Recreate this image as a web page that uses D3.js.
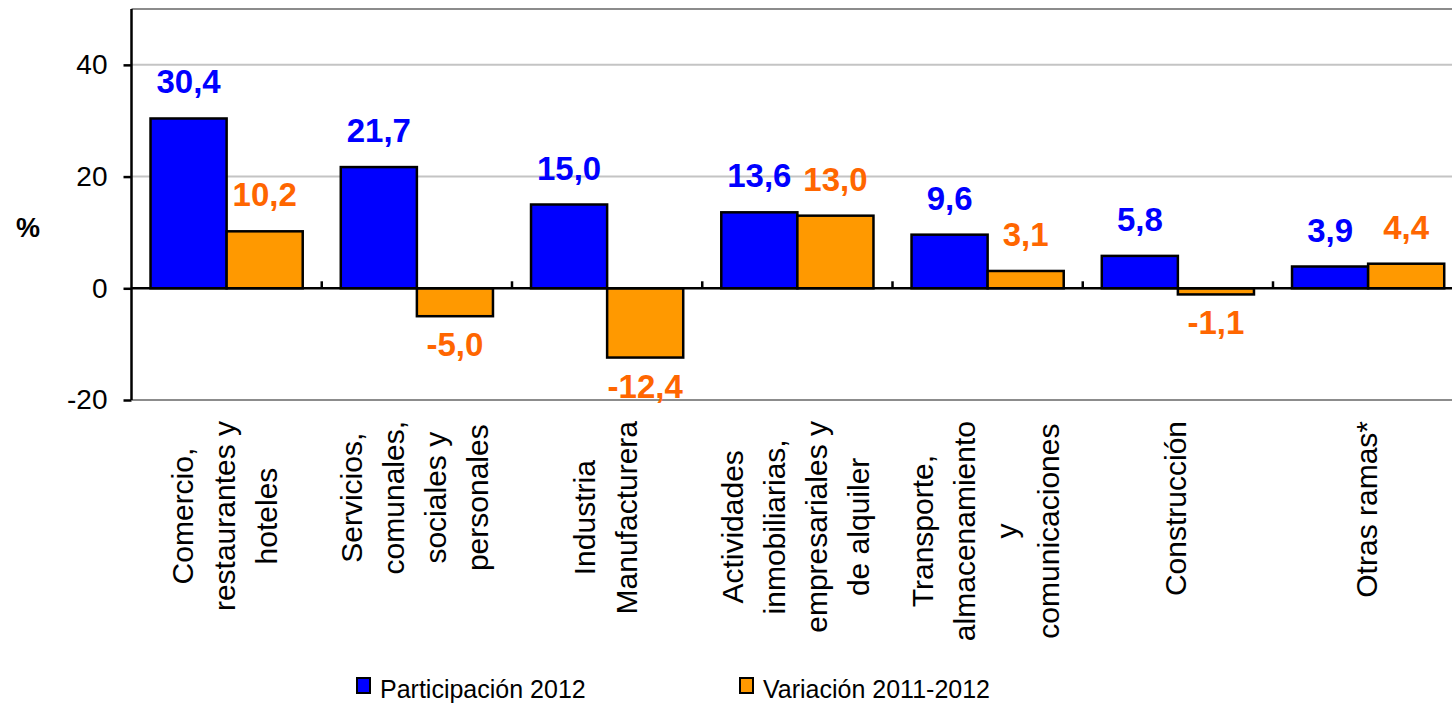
<!DOCTYPE html>
<html>
<head>
<meta charset="utf-8">
<script src="https://cdn.jsdelivr.net/npm/d3@7"></script>
<style>
  body { margin: 0; background: #fff; }
  text { font-family: Arial, "Liberation Sans", sans-serif; }
</style>
</head>
<body>
<script>
// categories (one entry per line of the rotated label)
const categories = [
  ["Comercio,", "restaurantes y", "hoteles"],
  ["Servicios,", "comunales,", "sociales y", "personales"],
  ["Industria", "Manufacturera"],
  ["Actividades", "inmobiliarias,", "empresariales y", "de alquiler"],
  ["Transporte,", "almacenamiento", "y", "comunicaciones"],
  ["Construcción"],
  ["Otras ramas*"]
];
const participacion = [30.4, 21.7, 15.0, 13.6, 9.6, 5.8, 3.9];
const variacion = [10.2, -5.0, -12.4, 13.0, 3.1, -1.1, 4.4];
const seriesNames = ["Participación 2012", "Variación 2011-2012"];
const yTicks = [-20, 0, 20, 40];

const width = 1452;
const height = 703;

const barColors = ["#0000ff", "#ff9900"];
const labelColors = ["#0000ff", "#ff6600"];

// comma decimal format, plain hyphen for negatives
const locale = d3.formatLocale({ decimal: ",", thousands: ".", grouping: [3], currency: ["", ""], minus: "-" });
const fmt = locale.format(".1f");
const fmtInt = locale.format("d");

const svg = d3.select('body')
  .append('svg')
  .attr('width', width)
  .attr('height', height);

const keys = categories.map(c => c.join(" "));
const data = keys.map((k, i) => ({ key: k, lines: categories[i], values: [participacion[i], variacion[i]] }));

// scales
const left = 131.5;
const step = 190.25;
const x0 = d3.scaleBand()
  .domain(keys)
  .range([left, left + step * keys.length])
  .padding(0);

const x1 = d3.scaleBand()
  .domain([0, 1])
  .range([0, x0.bandwidth()])
  .paddingInner(0)
  .paddingOuter(0.25);

const y = d3.scaleLinear()
  .domain([-20, 50])
  .range([400, 9]);

// gridlines
svg.append('g')
  .selectAll('line')
  .data([20, 40])
  .enter()
  .append('line')
  .attr('x1', left)
  .attr('x2', width)
  .attr('y1', d => y(d))
  .attr('y2', d => y(d))
  .attr('stroke', '#c4c4c4')
  .attr('stroke-width', 2);

// plot area border top/bottom
svg.append('g')
  .selectAll('line')
  .data([50, -20])
  .enter()
  .append('line')
  .attr('x1', left)
  .attr('x2', width)
  .attr('y1', d => y(d))
  .attr('y2', d => y(d))
  .attr('stroke', '#8c8c8c')
  .attr('stroke-width', 2);

// bars
const groups = svg.append('g')
  .selectAll('g')
  .data(data)
  .enter()
  .append('g')
  .attr('transform', d => `translate(${x0(d.key)},0)`);

groups.selectAll('rect')
  .data(d => d.values.map((v, i) => ({ v, i })))
  .enter()
  .append('rect')
  .attr('x', d => x1(d.i))
  .attr('width', x1.bandwidth())
  .attr('y', d => y(Math.max(0, d.v)))
  .attr('height', d => Math.abs(y(d.v) - y(0)))
  .attr('fill', d => barColors[d.i])
  .attr('stroke', '#000')
  .attr('stroke-width', 2.5);

// value labels
groups.selectAll('text.val')
  .data(d => d.values.map((v, i) => ({ v, i })))
  .enter()
  .append('text')
  .attr('class', 'val')
  .attr('x', d => x1(d.i) + x1.bandwidth() / 2)
  .attr('y', d => d.v >= 0 ? y(d.v) - 25 : y(d.v) + 40)
  .attr('text-anchor', 'middle')
  .attr('font-size', 33)
  .attr('font-weight', 'bold')
  .attr('fill', d => labelColors[d.i])
  .text(d => fmt(d.v));

// zero line (category axis)
svg.append('line')
  .attr('x1', left)
  .attr('x2', width)
  .attr('y1', y(0))
  .attr('y2', y(0))
  .attr('stroke', '#000')
  .attr('stroke-width', 2.5);

// category tick marks
svg.append('g')
  .selectAll('line')
  .data(keys.slice(1))
  .enter()
  .append('line')
  .attr('x1', d => x0(d))
  .attr('x2', d => x0(d))
  .attr('y1', y(0))
  .attr('y2', y(0) - 7)
  .attr('stroke', '#000')
  .attr('stroke-width', 2.5);

// y axis
const yAxis = svg.append('g')
  .attr('transform', `translate(${left},0)`)
  .call(d3.axisLeft(y).tickValues(yTicks).tickSize(8).tickPadding(16).tickFormat(fmtInt));

yAxis.select('.domain')
  .attr('d', `M0,${y(50)}V${y(-20)}`)
  .attr('stroke', '#000')
  .attr('stroke-width', 2.5);
yAxis.selectAll('.tick line').attr('stroke', '#000').attr('stroke-width', 2.5);
yAxis.selectAll('.tick text')
  .attr('font-size', 28)
  .attr('font-family', 'Arial, "Liberation Sans", sans-serif')
  .attr('fill', '#000');

// y axis title
svg.append('text')
  .attr('x', 28)
  .attr('y', 237)
  .attr('text-anchor', 'middle')
  .attr('font-size', 27)
  .attr('font-weight', 'bold')
  .text('%');

// rotated category labels
const lineGap = 42;
const labelTop = 421;
const catLabels = svg.append('g')
  .selectAll('g')
  .data(data)
  .enter()
  .append('g');

catLabels.each(function(d) {
  const g = d3.select(this);
  const n = d.lines.length;
  const cx = x0(d.key) + x0.bandwidth() / 2 - 2;
  const texts = g.selectAll('text')
    .data(d.lines)
    .enter()
    .append('text')
    .attr('font-size', 30)
    .attr('text-anchor', 'middle')
    .attr('dominant-baseline', 'central')
    .text(t => t);
  let maxLen = 0;
  texts.each(function() { maxLen = Math.max(maxLen, this.getComputedTextLength()); });
  texts.attr('transform', (t, i) => {
    const lx = cx + (i - (n - 1) / 2) * lineGap;
    return `translate(${lx},${labelTop + maxLen / 2}) rotate(-90)`;
  });
});

// legend
const legendX = [357, 740];
const legend = svg.append('g')
  .selectAll('g')
  .data(seriesNames)
  .enter()
  .append('g')
  .attr('transform', (d, i) => `translate(${legendX[i]},678)`);

legend.append('rect')
  .attr('width', 13)
  .attr('height', 15)
  .attr('fill', (d, i) => barColors[i])
  .attr('stroke', '#000')
  .attr('stroke-width', 2);

legend.append('text')
  .attr('x', 23)
  .attr('y', 20)
  .attr('font-size', 25)
  .text(d => d);
</script>
</body>
</html>
